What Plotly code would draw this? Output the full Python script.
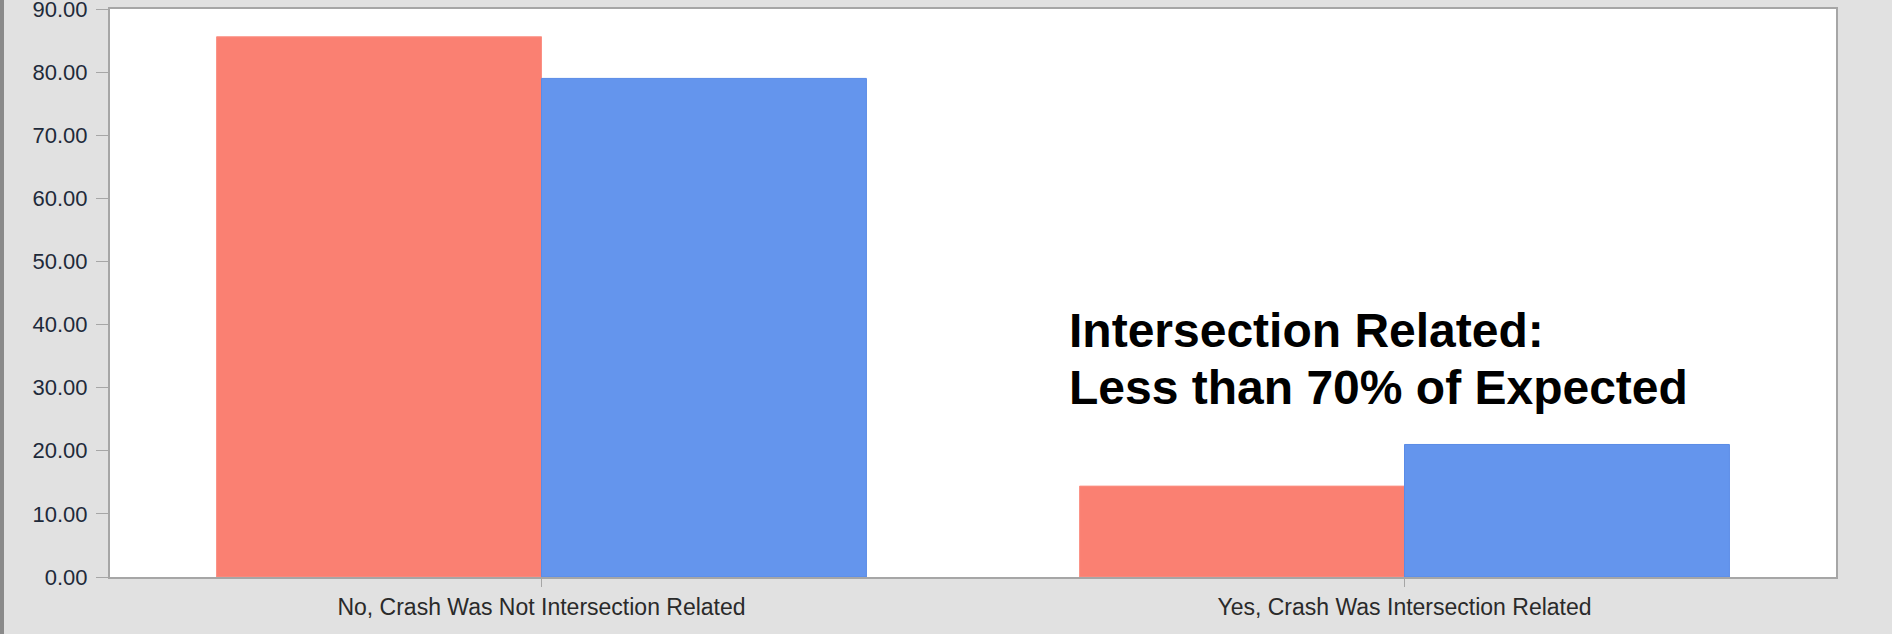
import plotly.graph_objects as go

categories = ["No, Crash Was Not Intersection Related", "Yes, Crash Was Intersection Related"]
series_names = ["Observed", "Expected"]
observed = [85.6, 14.4]
expected = [79.0, 21.0]
y_ticks = [0, 10, 20, 30, 40, 50, 60, 70, 80, 90]
note_lines = ["Intersection Related:", "Less than 70% of Expected"]

W, H = 1892, 634
L, R, T, B = 110, 56, 9, 57
PW, PH = W - L - R, H - T - B

fig = go.Figure()
fig.add_trace(go.Bar(x=categories, y=observed, name=series_names[0],
                     marker=dict(color="#fa8072", line=dict(color="#fb9084", width=1))))
fig.add_trace(go.Bar(x=categories, y=expected, name=series_names[1],
                     marker=dict(color="#6495ed", line=dict(color="#5a8be6", width=1))))

fig.update_layout(
    width=W, height=H,
    margin=dict(l=L, r=R, t=T, b=B, pad=0, autoexpand=False),
    paper_bgcolor="#e1e1e1",
    plot_bgcolor="#ffffff",
    barmode="group",
    bargap=0.247,
    bargroupgap=0,
    showlegend=False,
    font=dict(family="Arial, Liberation Sans, sans-serif", color="#222222"),
)
fig.update_xaxes(
    automargin=False,
    showline=True, linecolor="#a6a6a6", linewidth=2, mirror=True,
    ticks="outside", ticklen=8, tickcolor="#a6a6a6", tickwidth=1,
    tickfont=dict(size=23, color="#2a2a2a"),
    showgrid=False, zeroline=False,
)
fig.update_yaxes(
    automargin=False,
    range=[0, 90],
    tickvals=y_ticks,
    ticktext=[f"{v:.2f}" for v in y_ticks],
    showline=True, linecolor="#a6a6a6", linewidth=2, mirror=True,
    ticks="outside", ticklen=12, tickcolor="#a6a6a6", tickwidth=1,
    tickfont=dict(size=22, color="#1e2a3a"),
    ticklabelstandoff=4,
    ticklabeloverflow="allow",
    showgrid=False, zeroline=False,
)

# two annotation lines, placed by their vertical centres (pixels from top)
note_centres = [330, 387]
for line, yc in zip(note_lines, note_centres):
    fig.add_annotation(
        xref="paper", yref="paper",
        x=(1067 - L) / PW, y=(H - B - yc) / PH,
        xanchor="left", yanchor="middle", align="left",
        text=line, showarrow=False,
        font=dict(size=48, color="#000000", family="Arial, Liberation Sans, sans-serif", weight="bold"),
    )

# dark window edge at far left
fig.add_shape(type="rect", xref="paper", yref="paper",
              x0=(0 - L) / PW, x1=(4 - L) / PW,
              y0=-B / PH, y1=1 + T / PH,
              fillcolor="#8a8a8a", line=dict(width=0), layer="above")

fig.write_html("out.html", config={"displayModeBar": False},
               post_script="document.body.style.margin='0';document.body.style.background='#e1e1e1';")
